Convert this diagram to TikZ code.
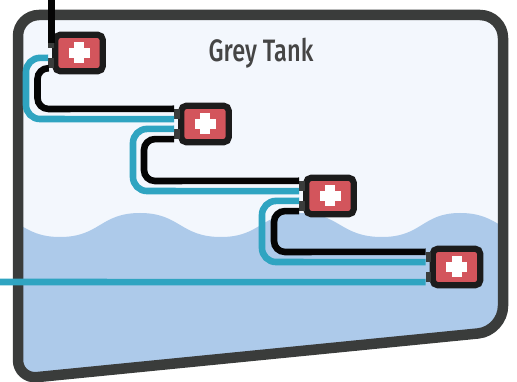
\documentclass[tikz,border=0pt]{standalone}
\usepackage{fontspec}
\newfontfamily\titlefont[FakeStretch=0.76]{Fira Sans Medium}
\definecolor{tankfill}{HTML}{F3F7FD}
\definecolor{water}{HTML}{ADCAEA}
\definecolor{wall}{HTML}{3A3C3B}
\definecolor{pipeblue}{HTML}{2FA4C1}
\definecolor{pipeblack}{HTML}{050505}
\definecolor{valvered}{HTML}{D3555C}
\definecolor{valveedge}{HTML}{1C1C1C}
\definecolor{titleink}{HTML}{454545}
\tikzset{
  wallline/.style={draw=wall,line width=10.5pt,line join=round},
  blueline/.style={draw=pipeblue,line width=6.6pt,rounded corners=14pt},
  blackline/.style={draw=pipeblack,line width=6.6pt,rounded corners=11pt},
  valvebox/.style={draw=valveedge,fill=valvered,line width=6.2pt,rounded corners=5pt,minimum width=47.5pt,minimum height=36.5pt,inner sep=0pt},
  portbox/.style={fill=wall,minimum width=5.5pt,minimum height=10pt,inner sep=0pt},
  crossbar/.style={fill=white,draw=none},
}
\newcommand{\valveat}[3]{%
  \node[valvebox] (v#1) at (#2,#3) {};
  \fill[crossbar] ([xshift=-10.5pt,yshift=-5pt]v#1.center) rectangle ([xshift=10.5pt,yshift=5pt]v#1.center);
  \fill[crossbar] ([xshift=-5pt,yshift=-10.5pt]v#1.center) rectangle ([xshift=5pt,yshift=10.5pt]v#1.center);
  \node[portbox] (p#1a) at (#2-28,#3-10) {};
  \node[portbox] (p#1b) at (#2-28,#3+10) {};
}
\begin{document}
\begin{tikzpicture}[x=1pt,y=-1pt]
\useasboundingbox (0,0) rectangle (517,382);
\def\tankpath{(18,36) [rounded corners=21pt] -- (18,15) [rounded corners=23pt] -- (503,15) [rounded corners=25pt] -- (503,331) [rounded corners=19pt] -- (18,379) [rounded corners=0pt] -- cycle}
\fill[tankfill] \tankpath;
\begin{scope}
  \clip \tankpath;
  \fill[water] (-21,213) .. controls (20,213) and (20,237) .. (60,237)
    .. controls (100,237) and (100,213) .. (140,213)
    .. controls (180,213) and (180,237) .. (221,237)
    .. controls (261,237) and (261,213) .. (300,213)
    .. controls (340,213) and (340,237) .. (382,237)
    .. controls (422,237) and (422,213) .. (460,213)
    .. controls (500,213) and (500,237) .. (541,237)
    -- (541,400) -- (-21,400) -- cycle;
\end{scope}
\draw[wallline] \tankpath;
\node[text=titleink,font=\titlefont\fontsize{31}{31}\selectfont,anchor=base] (title) at (261,62) {Grey Tank};
\valveat{1}{79}{53}
\valveat{2}{205}{124}
\valveat{3}{330}{196}
\valveat{4}{456.5}{267}
\coordinate (inlet) at (51.5,0);
\coordinate (outlet) at (0,282);
\draw[blackline] (inlet) -- (inlet |- p1a.center);
\draw[blueline] (p1b.north west) -- (26,58) -- (26,119) -- (p2a.south west);
\draw[blackline] (p1b.south west) -- (37.5,68) -- (37.5,109) -- (p2a.north west);
\draw[blueline] (p2b.north west) -- (133,129) -- (133,191) -- (p3a.south west);
\draw[blackline] (p2b.south west) -- (144,139) -- (144,181) -- (p3a.north west);
\draw[blueline] (p3b.north west) -- (262,201) -- (262,262) -- (p4a.south west);
\draw[blackline] (p3b.south west) -- (274,211) -- (274,252) -- (p4a.north west);
\draw[draw=pipeblue,line width=6.6pt] (outlet) -- (p4b.south west);
\end{tikzpicture}
\end{document}
